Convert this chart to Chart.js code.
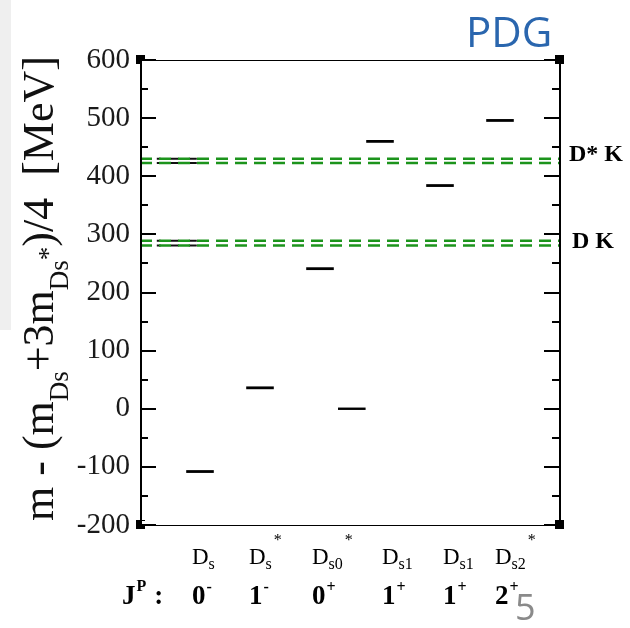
<!DOCTYPE html>
<html>
<head>
<meta charset="utf-8">
<script src="https://cdn.jsdelivr.net/npm/chart.js@4"></script>
<style>
  html, body { margin: 0; padding: 0; background: #fff; }
  #wrap { position: relative; width: 630px; height: 628px; }
  #edge { position: absolute; left: 0; top: 0; width: 11px; height: 330px; background: #efefef; }
  canvas { position: absolute; left: 0; top: 0; }
</style>
</head>
<body>
<div id="wrap"><div id="edge"></div><canvas id="levels" width="630" height="628"></canvas></div>
<script>
// D_s meson levels relative to the spin average (m_Ds + 3 m_Ds*)/4
const stateSubs = ["s", "s", "s0", "s1", "s1", "s2"];
const stateStars = [false, true, true, false, false, true];
const spins = ["0", "1", "0", "1", "1", "2"];
const parities = ["-", "-", "+", "+", "+", "+"];
const levels = [-108, 36, 241, 460, 384, 496];

const refX = 3.53;   // spin-average reference mark
const refLevel = 0;

const dkLines = [281, 289];
const dstarkLines = [423, 430];
const thresholdNames = ["D K", "D* K"];

const yMin = -200, yMax = 600, yStep = 50, yLabelEvery = 100;

const SERIF = '"Liberation Serif", "DejaVu Serif", serif';
const GREEN = "#1c941c";
const HALF = 0.23;
const labelNudge = [-8, -11, -8, 2, 3, -5];

Chart.defaults.font.family = SERIF;

function seg(x0, x1, y) {
  return [{ x: x0, y }, { x: x1, y }];
}

function drawRuns(ctx, runs, x, y) {
  let cx = x;
  for (const [t, font, dy, gap] of runs) {
    ctx.font = font;
    cx += gap || 0;
    ctx.fillText(t, cx, y + dy);
    cx += ctx.measureText(t).width;
  }
  return cx;
}

const datasets = [];
for (const v of [...dkLines, ...dstarkLines]) {
  datasets.push({ data: seg(0, 7, v), borderColor: GREEN, borderWidth: 2.5, borderDash: [12, 7] });
}
for (const v of [...dkLines, ...dstarkLines]) {
  datasets.push({ data: seg(0.28, 1, v), borderColor: "#111", borderWidth: 2, borderDash: [8, 10], borderDashOffset: 4 });
}
levels.forEach((v, i) => {
  datasets.push({ data: seg(i + 1 - HALF, i + 1 + HALF, v), borderColor: "#000", borderWidth: 2.8 });
});
datasets.push({ data: seg(refX - HALF, refX + HALF, refLevel), borderColor: "#000", borderWidth: 2.4 });

const decor = {
  id: "decor",
  afterDatasetsDraw(chart) {
    const { ctx, chartArea: a, scales: { y } } = chart;
    ctx.save();
    ctx.strokeStyle = "#000";
    // frame
    ctx.lineWidth = 1.2;
    ctx.beginPath();
    ctx.moveTo(a.left, a.top + 0.5); ctx.lineTo(a.right, a.top + 0.5);
    ctx.moveTo(a.left, a.bottom + 0.5); ctx.lineTo(a.right, a.bottom + 0.5);
    ctx.stroke();
    ctx.lineWidth = 2;
    ctx.beginPath();
    ctx.moveTo(a.left + 1, a.top); ctx.lineTo(a.left + 1, a.bottom);
    ctx.moveTo(a.right, a.top); ctx.lineTo(a.right, a.bottom);
    ctx.stroke();
    // inward ticks on both sides
    for (const t of y.ticks) {
      const yy = Math.round(y.getPixelForValue(t.value));
      const len = t.value % yLabelEvery === 0 ? 16 : 8;
      ctx.beginPath();
      ctx.moveTo(a.left, yy); ctx.lineTo(a.left + len, yy);
      ctx.moveTo(a.right, yy); ctx.lineTo(a.right - len, yy);
      ctx.stroke();
    }
    // corner squares
    ctx.fillStyle = "#000";
    for (const [cx, cy, hollow] of [[a.left + 1, a.top, true], [a.left + 1, a.bottom, true], [a.right, a.top, false], [a.right, a.bottom, false]]) {
      ctx.fillRect(cx - 5, cy - 5, 9, 9);
      if (hollow) {
        ctx.fillStyle = "#fff";
        ctx.fillRect(cx + 1, cy - (cy === a.top ? -1 : 4), 3, 3);
        ctx.fillStyle = "#000";
      }
    }
    ctx.restore();
  },
  afterDraw(chart) {
    const { ctx, chartArea: a, scales: { x, y } } = chart;
    ctx.save();
    ctx.fillStyle = "#000";
    ctx.textBaseline = "alphabetic";

    // rotated y-axis title with subscripts
    ctx.save();
    ctx.translate(53, 521);
    ctx.rotate(-Math.PI / 2);
    ctx.fillStyle = "#111";
    const big = `44px ${SERIF}`, sub = `27px ${SERIF}`;
    drawRuns(ctx, [
      ["m - (m", big, 0], ["Ds", sub, 15], ["+3m", big, 0],
      ["Ds", sub, 15], ["*", sub, 4], [")/4  [MeV]", big, 0],
    ], 0, 0);
    ctx.restore();

    // state names
    stateSubs.forEach((s, i) => {
      const x0 = x.getPixelForValue(i + 1) + labelNudge[i];
      const end = drawRuns(ctx, [["D", `23px ${SERIF}`, 0], [s, `16px ${SERIF}`, 5]], x0, 564);
      if (stateStars[i]) drawRuns(ctx, [["*", `16px ${SERIF}`, 0, 2]], end, 545);
    });

    // J^P row
    const bold = `bold 27px ${SERIF}`, boldSup = `bold 16px ${SERIF}`;
    drawRuns(ctx, [["J", bold, 0], ["P", boldSup, -13, 1], [":", bold, 0, 8]], 122, 604);
    spins.forEach((j, i) => {
      const x0 = x.getPixelForValue(i + 1) + labelNudge[i];
      drawRuns(ctx, [[j, bold, 0], [parities[i], boldSup, -12, 1]], x0, 604);
    });

    // threshold names on the right
    ctx.font = `bold 24px ${SERIF}`;
    ctx.fillText(thresholdNames[1], a.right + 9, y.getPixelForValue(Math.max(...dstarkLines)) + 2);
    ctx.fillText(thresholdNames[0], a.right + 12, y.getPixelForValue(Math.max(...dkLines)) + 7);

    // slide decorations
    ctx.fillStyle = "#2a66ae";
    ctx.font = '42px "Open Sans", "Noto Sans", sans-serif';
    ctx.fillText("PDG", 466, 47);
    ctx.fillStyle = "#8a8a8a";
    ctx.font = '36px "Open Sans", "Noto Sans", sans-serif';
    ctx.fillText("5", 515, 620);
    ctx.restore();
  },
};

new Chart(document.getElementById("levels"), {
  type: "line",
  data: { datasets },
  options: {
    responsive: false,
    animation: false,
    layout: { padding: { left: 0, top: 60, right: 70, bottom: 103 } },
    elements: { point: { radius: 0 }, line: { tension: 0 } },
    plugins: { legend: { display: false }, tooltip: { enabled: false } },
    scales: {
      x: { type: "linear", min: 0, max: 7, display: false },
      y: {
        type: "linear",
        min: yMin,
        max: yMax,
        afterFit(scale) { scale.width = 140; },
        grid: { display: false, drawTicks: false },
        border: { display: false },
        ticks: {
          stepSize: yStep,
          autoSkip: false,
          padding: 10,
          color: "#1a1a1a",
          font: { family: SERIF, size: 29 },
          callback: (v) => (v % yLabelEvery === 0 ? String(v) : ""),
        },
      },
    },
  },
  plugins: [decor],
});
</script>
</body>
</html>
